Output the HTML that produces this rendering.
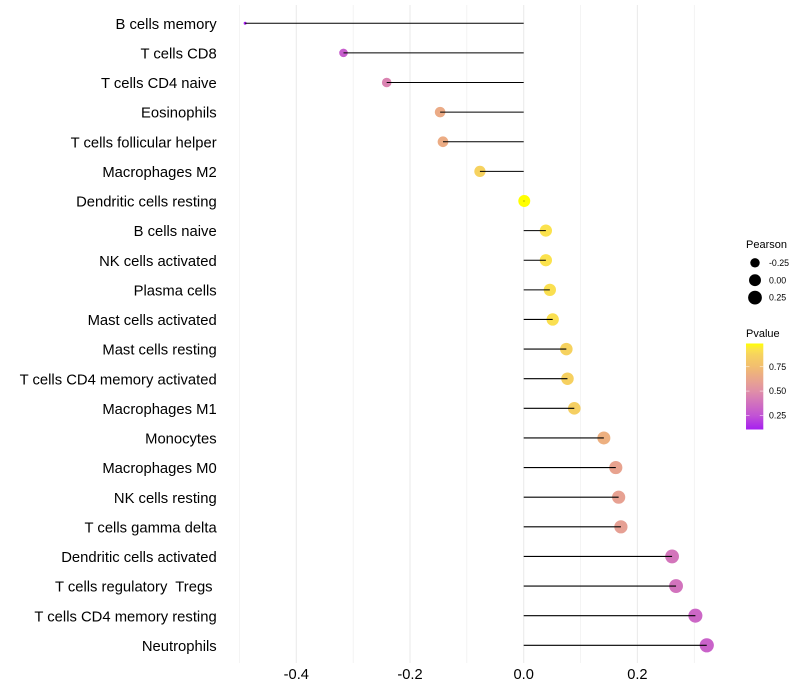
<!DOCTYPE html>
<html>
<head>
<meta charset="utf-8">
<style>
html,body{margin:0;padding:0;background:#fff;}
svg{display:block;font-family:"Liberation Sans",Arial,sans-serif;}
</style>
</head>
<body>
<svg id="chart" width="800" height="700" viewBox="0 0 800 700" xmlns="http://www.w3.org/2000/svg">
  <defs><linearGradient id="pgrad" x1="0" y1="1" x2="0" y2="0"></linearGradient></defs>
  <g id="grid"></g>
  <g id="points"></g>
  <g id="segments"></g>
  <g id="yaxis"></g>
  <g id="xaxis"></g>
  <g id="legend-size"></g>
  <g id="legend-color"></g>
</svg>
<script>
const categories = ["B cells memory","T cells CD8","T cells CD4 naive","Eosinophils","T cells follicular helper","Macrophages M2","Dendritic cells resting","B cells naive","NK cells activated","Plasma cells","Mast cells activated","Mast cells resting","T cells CD4 memory activated","Macrophages M1","Monocytes","Macrophages M0","NK cells resting","T cells gamma delta","Dendritic cells activated","T cells regulatory  Tregs ","T cells CD4 memory resting","Neutrophils"];
const pearson = [-0.49,-0.317,-0.241,-0.147,-0.142,-0.077,0.001,0.039,0.039,0.046,0.051,0.075,0.077,0.089,0.141,0.162,0.167,0.171,0.261,0.268,0.302,0.322];
const pvalue = [0.104,0.29,0.45,0.65,0.66,0.87,0.99,0.93,0.93,0.92,0.92,0.87,0.86,0.85,0.68,0.61,0.6,0.59,0.39,0.38,0.33,0.31];
const xMajorTicks = [-0.4,-0.2,0,0.2];
const xMinorTicks = [-0.5,-0.3,-0.1,0.1,0.3];
const xTickLabels = ["-0.4","-0.2","0.0","0.2"];
const sizeLegendValues = [-0.25,0,0.25];
const sizeLegendLabels = ["-0.25","0.00","0.25"];
const colorLegendValues = [0.25,0.5,0.75];
const colorLegendLabels = ["0.25","0.50","0.75"];
const colorStopValues = [0.104,0.25,0.5,0.75,0.87,0.93,0.99];
const colorStopHex = ["#a61ff0","#c254d4","#e08fa8","#f2bd70","#f6d25f","#fbe24d","#ffff00"];

const NS = "http://www.w3.org/2000/svg";
function mk(parent, tag, attrs, text){
  const el = document.createElementNS(NS, tag);
  for (const k in attrs) el.setAttribute(k, attrs[k]);
  if (text !== undefined) el.textContent = text;
  parent.appendChild(el);
  return el;
}
const $ = id => document.getElementById(id);

// axis functions
const panelTop = 5, panelBottom = 663;
const xScale = v => 523.7 + 568.5 * v;
const yScale = i => 23.26 + i * (645.3 - 23.26) / (categories.length - 1);

// size scale
const pMin = Math.min(...pearson), pMax = Math.max(...pearson);
const rScale = v => 1.5 + Math.pow(Math.max(0, (v - pMin) / (pMax - pMin)), 0.45) * 5.6;

// colour scale: piecewise through colours
const pLow = Math.min(...pvalue), pHigh = Math.max(...pvalue);
function hexToRgb(h){ return [1,3,5].map(i => parseInt(h.substr(i,2),16)); }
function colorScale(p){
  const n = colorStopValues.length;
  if (p <= colorStopValues[0]) return colorStopHex[0];
  if (p >= colorStopValues[n-1]) return colorStopHex[n-1];
  let k = 0;
  while (p > colorStopValues[k+1]) k++;
  const t = (p - colorStopValues[k]) / (colorStopValues[k+1] - colorStopValues[k]);
  const a = hexToRgb(colorStopHex[k]), b = hexToRgb(colorStopHex[k+1]);
  return "rgb(" + a.map((c,j) => Math.round(c + (b[j]-c)*t)).join(",") + ")";
}

// grid
xMinorTicks.forEach(v => {
  const l = mk($("grid"),"line",{x1:xScale(v),x2:xScale(v),y1:panelTop,y2:panelBottom,stroke:"#ebebeb","stroke-width":0.55});
  
  
});
xMajorTicks.forEach(v => {
  const l = mk($("grid"),"line",{x1:xScale(v),x2:xScale(v),y1:panelTop,y2:panelBottom,stroke:"#ebebeb","stroke-width":1.07});
  
  
});

// marks
categories.forEach((c,i) => {
  const dot = mk($("points"),"circle",{cx:xScale(pearson[i]),cy:yScale(i),r:rScale(pearson[i]),fill:colorScale(pvalue[i])});
  
  
  const seg = mk($("segments"),"line",{x1:xScale(0),x2:xScale(pearson[i]),y1:yScale(i),y2:yScale(i),stroke:"#000","stroke-width":1.07});
  
  
  const lab = mk($("yaxis"),"text",{x:216.7,y:yScale(i)+5.6,"text-anchor":"end","font-size":"14.8px",fill:"#000"},c);
  lab.style.whiteSpace = "pre";
  
  
});

// x axis labels
xMajorTicks.forEach((v,i) => {
  const t = mk($("xaxis"),"text",{x:xScale(v),y:679,"text-anchor":"middle","font-size":"14.67px",fill:"#000"},xTickLabels[i]);
  
  
});

// size legend
const sizeTitle = mk($("legend-size"),"text",{x:746,y:248,"font-size":"11px",fill:"#000"},"Pearson");


sizeLegendValues.forEach((v,i) => {
  const cy = 262.8 + i * 17.4;
  const c = mk($("legend-size"),"circle",{cx:755,cy:cy,r:rScale(v),fill:"#000"});
  
  
  const t = mk($("legend-size"),"text",{x:769,y:cy+3.1,"font-size":"8.8px",fill:"#000"},sizeLegendLabels[i]);
  
  
});

// colour legend
const colorTitle = mk($("legend-color"),"text",{x:746,y:337,"font-size":"11px",fill:"#000"},"Pvalue");


const barX = 746, barW = 17.3, barTop = 343.5, barBottom = 429.5;
const grad = $("pgrad");
for (let s = 0; s <= 30; s++) {
  mk(grad,"stop",{offset:(s/30),"stop-color":colorScale(pLow + (pHigh - pLow) * s / 30)});
}
const bar = mk($("legend-color"),"rect",{x:barX,y:barTop,width:barW,height:barBottom-barTop,fill:"url(#pgrad)"});


const barY = p => barBottom - (p - pLow) / (pHigh - pLow) * (barBottom - barTop);
colorLegendValues.forEach((v,i) => {
  const y = barY(v);
  const t1 = mk($("legend-color"),"line",{x1:barX,x2:barX+3.5,y1:y,y2:y,stroke:"#fff","stroke-width":0.5});
  
  
  const t2 = mk($("legend-color"),"line",{x1:barX+barW-3.5,x2:barX+barW,y1:y,y2:y,stroke:"#fff","stroke-width":0.5});
  
  
  const t = mk($("legend-color"),"text",{x:769,y:y+3.1,"font-size":"8.8px",fill:"#000"},colorLegendLabels[i]);
  
  
});
</script>
</body>
</html>
